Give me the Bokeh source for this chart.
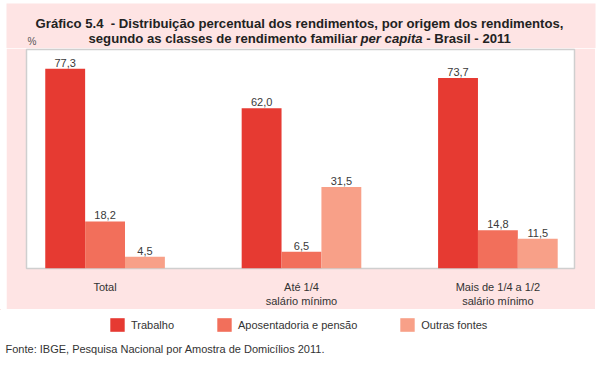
import numpy as np
from bokeh.plotting import figure
from bokeh.layouts import column, row
from bokeh.models import (Range1d, FixedTicker, Label, BoxAnnotation, Legend, LegendItem,
                          ColumnDataSource, Spacer)
from bokeh.core.properties import value
from bokeh.embed import file_html
from bokeh.resources import INLINE

categories = ["Total", "Até 1/4\nsalário mínimo", "Mais de 1/4 a 1/2\nsalário mínimo"]
series = ["Trabalho", "Aposentadoria e pensão", "Outras fontes"]
trabalho = [77.3, 62.0, 73.7]
aposentadoria = [18.2, 6.5, 14.8]
outras = [4.5, 31.5, 11.5]
colors = ["#e63a32", "#f26f5b", "#f8a088"]

PINK = "#fee4e4"
BODY_FONT = "Liberation Sans"
TITLE_FONT = "Liberation Sans"
NBSP = "\u00a0"

HEAD_H = 48
# ---------------- header (title) ----------------
head = figure(width=600, height=HEAD_H, output_backend="svg", toolbar_location=None,
              x_range=Range1d(0, 600), y_range=Range1d(HEAD_H, 0),
              min_border=0, min_border_left=0, min_border_right=0,
              min_border_top=0, min_border_bottom=0)
head.axis.visible = False
head.grid.visible = False
head.outline_line_color = None
head.background_fill_color = "white"
head.border_fill_color = "white"
head.add_layout(BoxAnnotation(left=6, right=595, top=3, bottom=HEAD_H, fill_color=PINK,
                              fill_alpha=1, line_alpha=0, level="underlay"))

def lab(fig, text, xx, yy, size="13.15px", style="bold", align="left", color="#222222",
        font=TITLE_FONT, baseline="alphabetic"):
    fig.add_layout(Label(x=xx, y=yy, text=text,
                         text_font_size=size, text_font_style=style, text_align=align,
                         text_color=color, text_font=font, text_baseline=baseline))

lab(head, "Gráfico 5.4" + NBSP + " - Distribuição percentual dos rendimentos, por origem dos rendimentos,",
    299, 23, align="center")
lab(head, "segundo as classes de rendimento familiar", 88, 38)
lab(head, "per capita", 360, 38, style="bold italic")
lab(head, NBSP + "- Brasil - 2011", 422, 38)
lab(head, "%", 27, 41, size="10px", style="normal", color="#555555", font=BODY_FONT,
    baseline="middle")

# ---------------- main chart ----------------
MAIN_H = 309 - HEAD_H
p = figure(width=589, height=MAIN_H, output_backend="svg", toolbar_location=None,
           x_range=Range1d(-0.4, 2.39), y_range=Range1d(0, 84.7),
           min_border_left=20, min_border_right=21, min_border_top=49 - HEAD_H,
           min_border_bottom=30)
p.border_fill_color = PINK
p.background_fill_color = "white"
p.outline_line_color = "#cfcfcf"
p.outline_line_width = 1.5
p.xgrid.visible = False
p.ygrid.visible = False
p.yaxis.visible = False

x = np.arange(len(categories))
width = 0.203
offsets = [-width, 0.0, width]
for vals, off, col in zip([trabalho, aposentadoria, outras], offsets, colors):
    src = ColumnDataSource(dict(x=x + off, top=vals,
                                lab=[f"{v:.1f}".replace(".", ",") for v in vals]))
    p.vbar(x="x", top="top", width=width, source=src, fill_color=col, line_color=None)
    p.text(x="x", y="top", text="lab", source=src, text_align="center",
           text_baseline="alphabetic", y_offset=-6, text_font_size="11px",
           text_color="#3a3a3a", text_font=value(BODY_FONT))

ax = p.xaxis[0]
ax.ticker = FixedTicker(ticks=list(x))
ax.major_label_overrides = {int(i): c for i, c in zip(x, categories)}
ax.axis_line_color = None
ax.major_tick_line_color = None
ax.minor_tick_line_color = None
ax.major_label_standoff = 6
ax.major_label_text_font_size = "11px"
ax.major_label_text_color = "#333333"
ax.major_label_text_font = BODY_FONT

# ---------------- footer (legend + source) ----------------
foot = figure(width=600, height=59, output_backend="svg", toolbar_location=None,
              x_range=Range1d(0, 600), y_range=Range1d(368, 309),
              min_border=0, min_border_left=0, min_border_right=0,
              min_border_top=0, min_border_bottom=0)
foot.axis.visible = False
foot.grid.visible = False
foot.outline_line_color = None
foot.background_fill_color = "white"
foot.border_fill_color = "white"

leg_renderers = []
for col in colors:
    leg_renderers.append(foot.vbar(x=[-1000], top=[0], bottom=[0], width=1,
                                   fill_color=col, line_color=None))

legend = Legend(items=[LegendItem(label=s, renderers=[r]) for s, r in zip(series, leg_renderers)],
                orientation="horizontal", location=(108, 35), glyph_width=18, glyph_height=17,
                label_standoff=5, spacing=41, padding=0, margin=0,
                border_line_alpha=0, background_fill_alpha=0,
                label_text_font_size="11px", label_text_color="#333333",
                label_text_font=BODY_FONT)
foot.add_layout(legend, "center")
lab(foot, "Fonte: IBGE, Pesquisa Nacional por Amostra de Domicílios 2011.", 5, 348,
    size="11px", style="normal", color="#333333", font=BODY_FONT, baseline="middle")

layout = column(head, row(Spacer(width=6, height=MAIN_H), p), foot)
open("out.html", "w").write(file_html(layout, INLINE))
